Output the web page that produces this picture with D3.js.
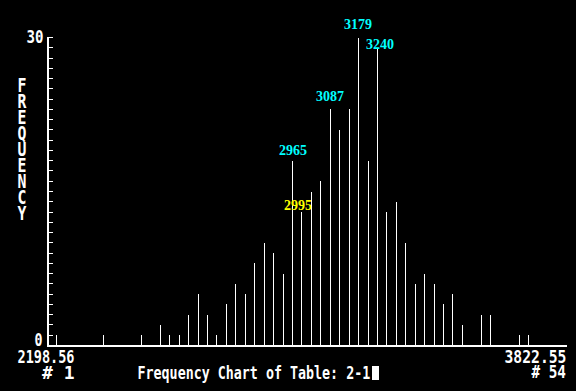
<!DOCTYPE html>
<html>
<head>
<meta charset="utf-8">
<script src="https://cdn.jsdelivr.net/npm/d3@7"></script>
<style>
html,body{margin:0;padding:0;background:#000;}
svg{display:block;}
</style>
</head>
<body>
<svg id="chart" width="576" height="391"></svg>
<script>
// ---- data ----
const binCount = 54;
const frequencies = [
  1,0,0,0,0,1,0,0,0,1,
  0,2,1,1,3,5,3,1,4,6,
  5,8,10,9,7,18,13,15,16,23,
  21,23,30,18,29,13,14,10,6,7,
  6,4,5,2,0,3,3,0,0,1,
  1,0,0,0
];
const yTickLabels = ["0", "30"];
const xRangeLabels = ["2198.56", "3822.55"];
const xIndexLabels = ["#  1", "# 54"];
const yTitle = "FREQUENCY";
const chartTitle = "Frequency Chart of Table: 2-1";
const annotationBins   = [26, 30, 33, 35, 27];
const annotationTexts  = ["2965", "3087", "3179", "3240", "2995"];
const annotationColors = ["#00FFFF", "#00FFFF", "#00FFFF", "#00FFFF", "#FFFF00"];

// ---- layout ----
const svg = d3.select("#chart");
svg.append("rect").attr("width", 576).attr("height", 391).attr("fill", "#000");

const x = d3.scaleLinear().domain([1, binCount]).range([56, 556.32]);
const y = d3.scaleLinear().domain([0, 30]).range([345.5, 37.5]);
const baseY = 345;

// y axis line
svg.append("rect").attr("x", 47).attr("y", 37).attr("width", 2).attr("height", 310).attr("fill", "#fff");
// x axis line
svg.append("rect").attr("x", 47).attr("y", baseY).attr("width", 520).attr("height", 2).attr("fill", "#fff");

// y ticks (every unit)
svg.append("g").selectAll("rect").data(d3.range(1, 31)).join("rect")
  .attr("x", 49).attr("y", d => Math.floor(y(d)))
  .attr("width", 4).attr("height", 1).attr("fill", "#fff");

// bars
const data = frequencies.map((v, i) => ({bin: i + 1, v}));
svg.append("g").selectAll("rect").data(data.filter(d => d.v > 0)).join("rect")
  .attr("x", d => Math.round(x(d.bin)))
  .attr("y", d => Math.round(y(d.v)))
  .attr("width", 1)
  .attr("height", d => baseY - Math.round(y(d.v)))
  .attr("fill", "#fff");

// mono text helper: fits the text into a width via a horizontal scale
const MONO = "'DejaVu Sans Mono', monospace";
function mono(str, left, base, width, size) {
  const t = svg.append("text").text(str)
    .attr("x", 0).attr("y", 0)
    .attr("font-family", MONO).attr("font-weight", "bold")
    .attr("font-size", size || 18).attr("fill", "#fff");
  const nat = t.node().getComputedTextLength();
  t.attr("transform", `translate(${left},${base}) scale(${width / nat},1)`);
  return t;
}

// y tick labels
mono(yTickLabels[1], 26.5, 43, 17);
mono(yTickLabels[0], 34.5, 346, 8);

// lower / upper bounds and index labels
mono(xRangeLabels[0], 17.5, 363, 57);
mono(xRangeLabels[1], 504.5, 363, 62);
mono(xIndexLabels[0], 42, 379, 32.5);
mono(xIndexLabels[1], 531.5, 378, 34.5);

// y title: one vertical text run, letters stacked with a 15.7px pitch
const yt = svg.append("text").text(yTitle)
  .attr("x", 0).attr("y", 0)
  .attr("font-family", MONO).attr("font-weight", "bold")
  .attr("font-size", 19).attr("fill", "#fff")
  .attr("writing-mode", "vertical-rl")
  .style("text-orientation", "upright");
const natV = yt.node().getComputedTextLength() / yTitle.length;
yt.attr("letter-spacing", 15.7 - natV)
  .attr("transform", "translate(22,74) scale(0.78,1)");

// title + cursor
mono(chartTitle, 137.5, 379, 233);
svg.append("rect").attr("x", 372).attr("y", 366).attr("width", 7).attr("height", 14).attr("fill", "#fff");

// annotations
const annOffsets = {
  "2965": [1, -6], "3087": [0, -8], "3179": [0, -9], "3240": [3, 1], "2995": [-3, -2]
};
annotationBins.forEach((b, k) => {
  const v = frequencies[b - 1];
  const t = annotationTexts[k];
  const off = annOffsets[t];
  svg.append("text").text(t)
    .attr("x", Math.round(x(b)) + off[0])
    .attr("y", Math.round(y(v)) + off[1])
    .attr("text-anchor", "middle")
    .attr("font-family", "'Liberation Serif', serif").attr("font-weight", "bold")
    .attr("font-size", 14)
    .attr("fill", annotationColors[k]);
});
</script>
</body>
</html>
